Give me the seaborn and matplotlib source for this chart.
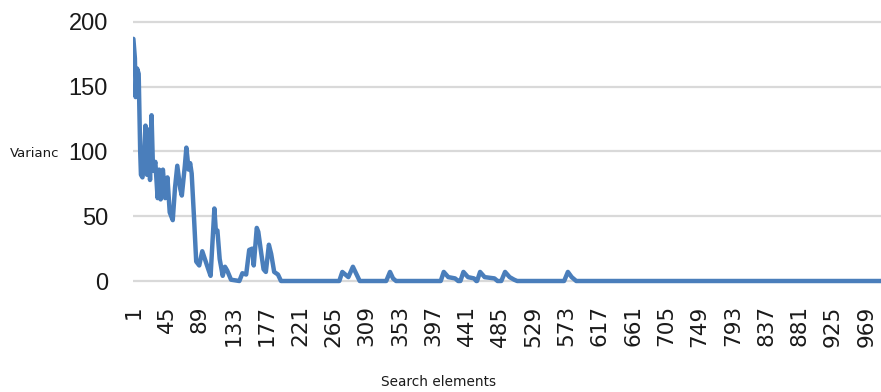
import matplotlib
matplotlib.use("Agg")
import matplotlib.pyplot as plt
import seaborn as sns

# search element index and variance
elements = [1, 3, 4, 5, 6, 8, 10, 11, 13, 15, 17, 19, 21, 23, 25, 27, 30, 33, 35,
            37, 40, 43, 46, 49, 53, 56, 59, 63, 65, 69, 71, 74, 76, 78, 81, 84,
            88, 92, 96, 100, 103, 108, 110, 112, 115, 119, 122, 125, 130, 141,
            145, 150, 154, 158, 160, 164, 166, 170, 173, 176, 180, 183, 187, 192,
            196, 273, 277, 285, 291, 300, 335, 340, 344, 348, 407, 411, 417, 426,
            430, 433, 437, 443, 451, 454, 455, 459, 465, 478, 482, 487, 492, 498,
            504, 508, 570, 575, 580, 586, 1000]
variance = [187, 172, 142, 160, 164, 160, 100, 82, 80, 95, 120, 82, 117, 78, 128,
            85, 92, 64, 86, 63, 86, 64, 80, 53, 47, 72, 89, 71, 66, 89, 103, 86,
            91, 83, 50, 15, 12, 23, 16, 9, 4, 56, 38, 39, 17, 4, 11, 8, 1, 0,
            6, 5, 24, 25, 12, 41, 38, 21, 9, 7, 28, 21, 7, 5,
            0, 0, 7, 3, 11, 0, 0, 7, 2, 0, 0, 7, 3, 2,
            0, 0, 7, 3, 2, 0, 0, 7, 3, 2, 0, 0, 7, 3,
            1, 0, 0, 7, 3, 0, 0]

x_ticks = list(range(1, 1000, 44))
y_ticks = [0, 50, 100, 150, 200]

sns.set_theme(style="white")
plt.rcParams["font.family"] = ["DejaVu Sans"]

fig = plt.figure(figsize=(8.81, 3.92), dpi=100)
ax = fig.add_axes([133 / 881, 1 - 290 / 392, 1 - 133 / 881, (290 - 15) / 392])

sns.lineplot(x=elements, y=variance, sort=False, color="#4a7ebb",
             linewidth=3.2, ax=ax, zorder=3)

ax.set_xlim(0.5, 988.6)
ax.set_ylim(-9 / 1.295, 200 + 7 / 1.295)
ax.set_yticks(y_ticks)
ax.set_xticks(x_ticks)
ax.yaxis.grid(True, color="#d9d9d9", linewidth=1.6)
ax.xaxis.grid(False)
for s in ax.spines.values():
    s.set_visible(False)
ax.tick_params(axis="both", length=0)
ax.tick_params(axis="y", pad=18)
ax.tick_params(axis="x", pad=11)

for lab in ax.get_yticklabels():
    lab.set_fontfamily(["Liberation Sans", "DejaVu Sans"])
    lab.set_fontsize(17)
    lab.set_color("#1a1a1a")
for lab in ax.get_xticklabels():
    lab.set_fontsize(15.5)
    lab.set_rotation(90)
    lab.set_color("#1a1a1a")

fig.text(10 / 881, 1 - 153 / 392, "Varianc", fontsize=9.5, va="center",
         ha="left", color="#1a1a1a")
fig.text(439 / 881, 1 - 382 / 392, "Search elements", fontsize=9.8,
         va="center", ha="center", color="#1a1a1a")

fig.savefig("out.png", dpi=100)
